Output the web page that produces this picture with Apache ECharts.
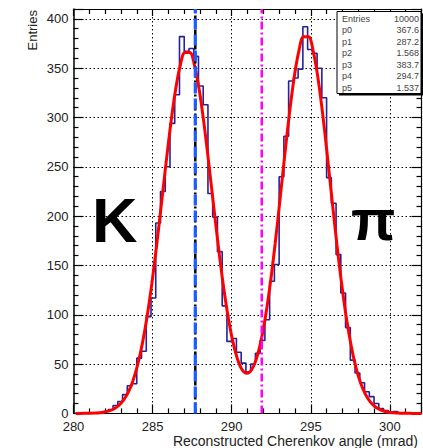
<!DOCTYPE html>
<html><head><meta charset="utf-8">
<script src="https://cdn.jsdelivr.net/npm/echarts@6/dist/echarts.min.js"></script>
<style>html,body{margin:0;padding:0;background:#fff}#c{width:423px;height:448px}</style>
</head><body><div id="c"></div>
<script>
// Histogram: 73 bins of 0.3 mrad starting at 280.1 mrad
const binStart = 280.1;
const binWidth = 0.3;
const counts = [0,0,0,0,0,0,2,4,8,12,19,28,30,56,63,98,117,193,225,250,294,323,382,367,370,362,332,313,223,199,164,109,73,76,62,51,42,50,61,74,95,134,151,240,281,337,340,349,392,369,365,350,320,239,213,161,122,87,54,41,31,22,17,10,5,3,0,2,0,0,0,0,0];
// Fit curve (mrad, entries)
const fitX = [280.15,280.45,280.75,281.05,281.35,281.65,281.95,282.25,282.55,282.85,283.15,283.45,283.75,284.05,284.35,284.65,284.95,285.25,285.55,285.85,286.15,286.45,286.75,287.05,287.35,287.65,287.95,288.25,288.55,288.85,289.15,289.45,289.75,290.05,290.35,290.65,290.95,291.25,291.55,291.85,292.15,292.45,292.75,293.05,293.35,293.65,293.95,294.25,294.55,294.85,295.15,295.45,295.75,296.05,296.35,296.65,296.95,297.25,297.55,297.85,298.15,298.45,298.75,299.05,299.35,299.65,299.95,300.25,300.55,300.85,301.15,301.45,301.75,302.0];
const fitY = [0,0,0.1,0.2,0.4,0.7,1.4,2.5,4.5,7.8,13.1,21.1,32.6,48.9,70.5,98.0,131.3,169.7,211.3,253.7,293.7,327.9,352.8,365.9,365.9,352.8,327.9,293.8,253.8,211.6,170.3,132.4,100.2,74.5,55.9,44.5,40.7,44.0,54.8,73.3,99.4,132.8,172.3,216.0,261.1,304.0,340.6,367.6,381.9,381.9,367.6,340.6,303.9,260.9,215.6,171.6,131.4,96.9,68.8,47.0,30.9,19.6,11.9,7.0,4.0,2.2,1.1,0.6,0.3,0.1,0.1,0,0,0];
const xTicks = [280,285,290,295,300];
const yTicks = [0,50,100,150,200,250,300,350,400];
const kaonAngle = 287.7;
const pionAngle = 291.9;
const statNames = ['Entries','p0','p1','p2','p3','p4','p5'];
const statValues = ['10000','367.6','287.2','1.568','383.7','294.7','1.537'];
const xTitle = 'Reconstructed Cherenkov angle (mrad)';
const yTitle = 'Entries';

const FONT = 'Liberation Sans, Arial, Helvetica, sans-serif';
const xMin = 280, xMax = 302, yMin = 0, yMax = 410;

const histData = counts.map((c, k) => [+(binStart + binWidth * k).toFixed(2), c]);
histData.push([+(binStart + binWidth * counts.length).toFixed(2), 0]);
const fitData = fitX.map((x, i) => [x, fitY[i]]);

const chart = echarts.init(document.getElementById('c'), null, {renderer: 'svg'});
const gridDots = {show: true, showMinLine: false, showMaxLine: false, lineStyle: {color: '#000', width: 1, type: [1.5, 2.5]}};
const baseX = {type: 'value', min: xMin, max: xMax, interval: 5,
  axisLine: {show: true, onZero: false, lineStyle: {color: '#000', width: 1.2}},
  axisTick: {show: true, inside: true, length: 9, lineStyle: {color: '#000', width: 1.2}},
  minorTick: {show: true, splitNumber: 5, length: 5, lineStyle: {color: '#000', width: 1.2}}};
const baseY = {type: 'value', min: yMin, max: yMax, interval: 50,
  axisLine: {show: true, onZero: false, lineStyle: {color: '#000', width: 1.5}},
  axisTick: {show: true, inside: true, length: 10, lineStyle: {color: '#000', width: 1.2}},
  minorTick: {show: true, splitNumber: 5, length: 5, lineStyle: {color: '#000', width: 1.2}}};

const boxItems = [
  {type: 'rect', z: 50, shape: {x: 339, y: 13.5, width: 84, height: 82}, style: {fill: '#000'}},
  {type: 'rect', z: 51, shape: {x: 337, y: 11.5, width: 84, height: 82}, style: {fill: '#fff', stroke: '#000', lineWidth: 1}}
].concat(statNames.map((n, i) => ({type: 'text', z: 52, x: 342, y: 18.5 + i * 11.5,
    style: {text: n, font: '9px ' + FONT, fill: '#444', align: 'left', verticalAlign: 'middle'}})))
 .concat(statValues.map((v, i) => ({type: 'text', z: 52, x: 419, y: 18.5 + i * 11.5,
    style: {text: v, font: '9px ' + FONT, fill: '#444', align: 'right', verticalAlign: 'middle'}})));

chart.setOption({
  animation: false,
  backgroundColor: '#fff',
  grid: {left: 73.5, right: 1.5, top: 9, bottom: 34.6, containLabel: false},
  xAxis: [
    Object.assign({}, baseX, {position: 'bottom',
      axisLabel: {show: true, margin: 7, color: '#222', fontSize: 13, fontFamily: FONT, showMaxLabel: false,
        formatter: v => xTicks.includes(v) ? String(v) : ''},
      splitLine: gridDots}),
    Object.assign({}, baseX, {position: 'top', axisTick: {show: true, inside: true, length: 7, lineStyle: {color: '#000', width: 1.2}},
      axisLabel: {show: false}, splitLine: {show: false}})
  ],
  yAxis: [
    Object.assign({}, baseY, {position: 'left',
      axisLabel: {show: true, margin: 5, color: '#222', fontSize: 13, fontFamily: FONT, showMaxLabel: false,
        formatter: v => yTicks.includes(v) ? String(v) : ''},
      splitLine: gridDots}),
    Object.assign({}, baseY, {position: 'right', axisLine: {show: true, onZero: false, lineStyle: {color: '#000', width: 1.2}},
      axisLabel: {show: false}, splitLine: {show: false}})
  ],
  series: [
    {type: 'line', name: 'hist', data: histData, step: 'end', symbol: 'none', z: 3,
      lineStyle: {color: '#22229e', width: 1.6}},
    {type: 'line', name: 'fit', data: fitData, smooth: 0.35, symbol: 'none', z: 4,
      lineStyle: {color: '#ff0000', width: 3}},
    {type: 'line', name: 'kaonBlack', data: [[kaonAngle, yMin], [kaonAngle, yMax]], symbol: 'none', z: 5,
      lineStyle: {color: '#000', width: 2.5, type: [6, 3, 2, 3]}},
    {type: 'line', name: 'kaon', data: [[kaonAngle, yMin], [kaonAngle, yMax]], symbol: 'none', z: 6,
      lineStyle: {color: '#1e5cff', width: 3.2, type: [11, 5]}},
    {type: 'line', name: 'pion', data: [[pionAngle, yMin], [pionAngle, yMax]], symbol: 'none', z: 5,
      lineStyle: {color: '#ff00ff', width: 2.5, type: [8, 3, 2, 3]}}
  ],
  graphic: [
    {type: 'text', left: 92, top: 188, z: 10, style: {text: 'K', font: 'bold 63px ' + FONT, fill: '#000'}},
    {type: 'text', left: 351, top: 190, z: 10, style: {text: 'π', font: 'bold 58px ' + FONT, fill: '#000'}},
    {type: 'text', x: 418, y: 434, z: 10, style: {text: xTitle, font: '14px ' + FONT, fill: '#222', align: 'right', verticalAlign: 'top'}},
    {type: 'text', x: 26, y: 10, rotation: Math.PI / 2, z: 10,
      style: {text: yTitle, font: '13px ' + FONT, fill: '#222', align: 'right', verticalAlign: 'top'}},
    {type: 'group', z: 50, children: boxItems}
  ]
});
</script></body></html>
